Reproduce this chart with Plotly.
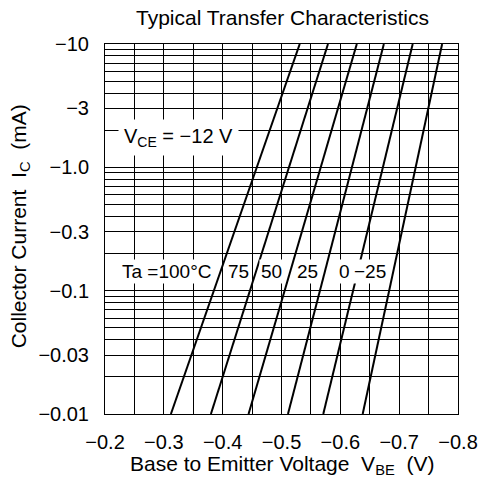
import plotly.graph_objects as go

# ---- data ----
temps = ["100", "75", "50", "25", "0", "−25"]
vbe_at_min_ic = [0.312, 0.380, 0.444, 0.511, 0.571, 0.638]   # |VBE| (V) at |IC| = 0.01 mA
vbe_at_max_ic = [0.531, 0.579, 0.628, 0.674, 0.723, 0.773]   # |VBE| (V) at |IC| = 10 mA
ic_ends = [0.01, 10]                                         # |IC| (mA)

xtick_vals = [-0.2, -0.3, -0.4, -0.5, -0.6, -0.7, -0.8]
xtick_text = ["−0.2", "−0.3", "−0.4", "−0.5", "−0.6", "−0.7", "−0.8"]
xminor_vals = [-0.25, -0.35, -0.45, -0.55, -0.65, -0.75]

ytick_vals = [0.01, 0.03, 0.1, 0.3, 1, 3, 10]
ytick_text = ["−0.01", "−0.03", "−0.1", "−0.3", "−1.0", "−3", "−10"]
yminor_vals = [k * 10 ** e for e in (-2, -1, 0) for k in range(2, 10)]

label_texts = ["Ta =100°C", "75", "50", "25", "0", "−25"]

FONT = "Liberation Sans, Arial, sans-serif"

fig = go.Figure()
for t, v0, v1 in zip(temps, vbe_at_min_ic, vbe_at_max_ic):
    fig.add_trace(go.Scatter(
        x=[-v0, -v1], y=ic_ends, mode="lines", name=t,
        line=dict(color="black", width=2), showlegend=False, hoverinfo="skip"))

grid = dict(showgrid=True, gridcolor="black", gridwidth=1)

fig.update_layout(
    width=480, height=480,
    margin=dict(l=105, r=22, t=44, b=66, autoexpand=False),
    paper_bgcolor="white", plot_bgcolor="white",
    font=dict(family=FONT, size=20, color="black"),
    xaxis=dict(
        range=[-0.2, -0.8], tickmode="array", tickvals=xtick_vals, ticktext=xtick_text,
        ticks="outside", ticklen=10, tickcolor="rgba(0,0,0,0)", automargin=False,
        showline=True, mirror=True, linecolor="black", linewidth=1, zeroline=False,
        minor=dict(tickvals=xminor_vals, showgrid=True, gridcolor="black", gridwidth=1, ticks=""),
        **grid),
    yaxis=dict(
        type="log", range=[-2, 1], tickmode="array", tickvals=ytick_vals, ticktext=ytick_text,
        ticks="outside", ticklen=11, tickcolor="rgba(0,0,0,0)", automargin=False,
        showline=True, mirror=True, linecolor="black", linewidth=1, zeroline=False,
        minor=dict(tickvals=yminor_vals, showgrid=True, gridcolor="black", gridwidth=1, ticks=""),
        **grid),
)

# chart title and axis titles
fig.add_annotation(text="Typical Transfer Characteristics", xref="paper", yref="paper",
                   x=0.502, y=1.0703, xanchor="center", yanchor="middle",
                   showarrow=False, font=dict(size=21))
fig.add_annotation(text="Base to Emitter Voltage  V<sub>BE</sub>  (V)", xref="paper", yref="paper",
                   x=0.502, y=-0.137, xanchor="center", yanchor="middle",
                   showarrow=False, font=dict(size=21))
fig.add_annotation(text="Collector Current  I<sub>C</sub>  (mA)", xref="paper", yref="paper",
                   x=-0.241, y=0.507, xanchor="center", yanchor="middle", textangle=-90,
                   showarrow=False, font=dict(size=21))

# V_CE condition label
fig.add_annotation(text="V<sub>CE</sub> = −12 V", xref="paper", yref="paper",
                   x=0.207, y=0.746, xanchor="center", yanchor="middle",
                   showarrow=False, bgcolor="white", borderpad=5,
                   font=dict(size=20))

# temperature labels (right edges just left of each curve)
label_right = [0.306, 0.4136, 0.507, 0.609, 0.6997, 0.8017]
for txt, xr in zip(label_texts, label_right):
    fig.add_annotation(text=txt, xref="paper", yref="paper", x=xr, y=0.384,
                       xanchor="right", yanchor="middle", showarrow=False,
                       bgcolor="white", borderpad=1, font=dict(size=19))

fig.write_html("out.html",
               config={"displayModeBar": False},
               post_script="document.body.style.margin='0';document.body.style.overflow='hidden';")
